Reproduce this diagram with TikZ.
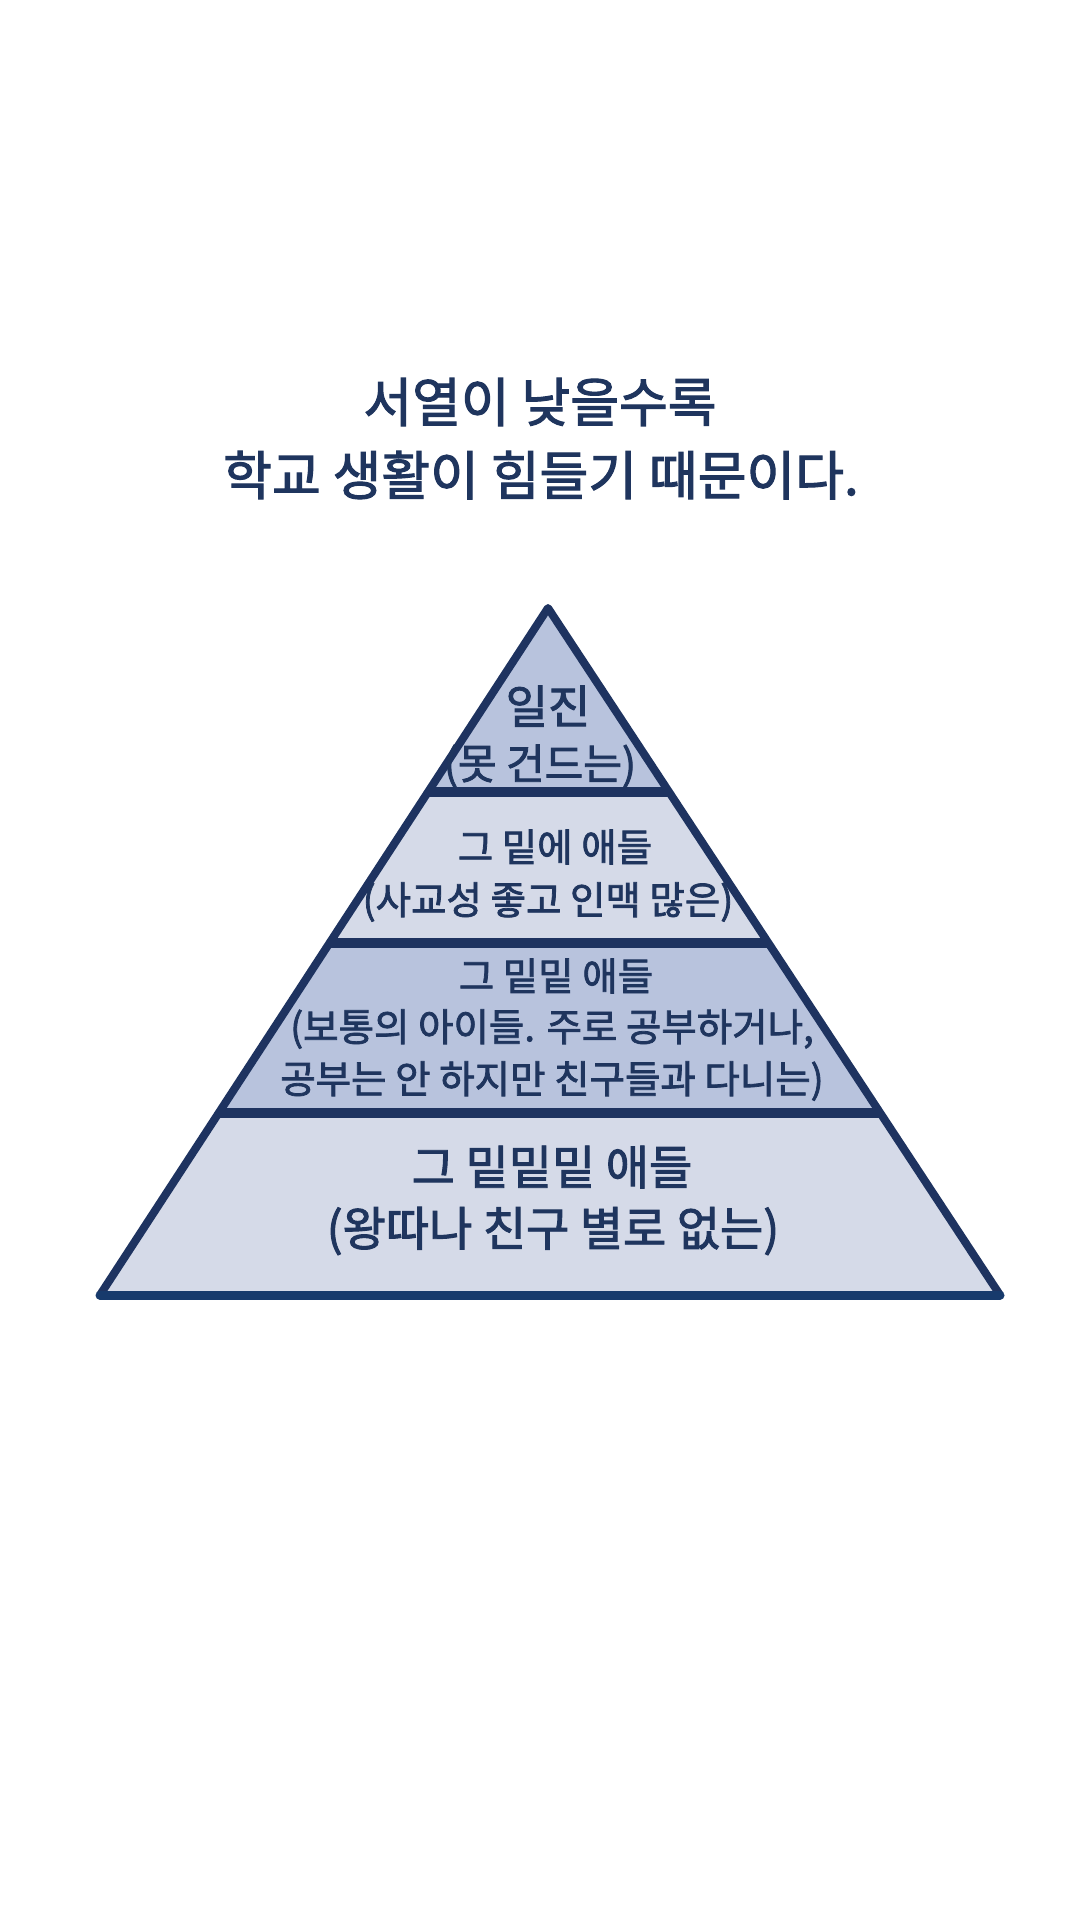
\documentclass[tikz,border=0pt]{standalone}
\usepackage{fontspec}
\newfontfamily\kr{Noto Sans CJK KR}[FakeBold=2]
\usetikzlibrary{calc}
\definecolor{ink}{HTML}{1F355E}
\definecolor{edge}{HTML}{1E3360}
\definecolor{baseedge}{HTML}{173A6C}
\definecolor{darkfill}{HTML}{B8C3DD}
\definecolor{lightfill}{HTML}{D5DAE8}
\begin{document}
\begin{tikzpicture}[x=1pt,y=-1pt,
  lbl/.style={text=ink, inner sep=0pt, anchor=center},
  ttl/.style={lbl, font={\kr\fontsize{53}{60}\selectfont}},
  big/.style={lbl, font={\kr\fontsize{46}{52}\selectfont}},
  mid/.style={lbl, font={\kr\fontsize{38.5}{45}\selectfont}},
  low/.style={lbl, font={\kr\fontsize{47}{52}\selectfont}},
  divider/.style={draw=edge, line width=10pt},
  outline/.style={draw=edge, line width=8pt, line join=round}]
\useasboundingbox[fill=white] (0,0) rectangle (1080,1920);
% corners
\coordinate (A) at (548,608);
\coordinate (BL) at (100,1295);
\coordinate (BR) at (1000,1295);
\coordinate (L1) at ($(A)!0.2678!(BL)$);
\coordinate (R1) at ($(A)!0.2678!(BR)$);
\coordinate (L2) at ($(A)!0.4876!(BL)$);
\coordinate (R2) at ($(A)!0.4876!(BR)$);
\coordinate (L3) at ($(A)!0.7351!(BL)$);
\coordinate (R3) at ($(A)!0.7351!(BR)$);
% fills
\fill[darkfill] (A) -- (L1) -- (R1) -- cycle;
\fill[lightfill] (L1) -- (L2) -- (R2) -- (R1) -- cycle;
\fill[darkfill] (L2) -- (L3) -- (R3) -- (R2) -- cycle;
\fill[lightfill] (L3) -- (BL) -- (BR) -- (R3) -- cycle;
% dividers
\draw[divider] (L1) -- (R1);
\draw[divider] (L2) -- (R2);
\draw[divider] (L3) -- (R3);
% outline
\draw[outline] (BL) -- (A) -- (BR);
\draw[draw=baseedge, line width=9pt, line cap=round] (BL) -- (BR);
% title
\node[ttl] (t1) at (540,402) {서열이 낮을수록};
\node[ttl] (t2) at (541,475) {학교 생활이 힘들기 때문이다.};
% layer 1
\node[big] (a1) at (548,706) {일진};
\node[lbl, font={\kr\fontsize{42}{48}\selectfont}] (a2) at (540,766) {(못 건드는)};
% layer 2
\node[mid] (b1) at (555,847) {그 밑에 애들};
\node[mid] (b2) at (548,902) {(사교성 좋고 인맥 많은)};
% layer 3
\node[mid] (c1) at (556,976) {그 밑밑 애들};
\node[mid] (c2) at (552,1029) {(보통의 아이들. 주로 공부하거나,};
\node[mid] (c3) at (552,1081) {공부는 안 하지만 친구들과 다니는)};
% layer 4
\node[low] (d1) at (552,1167) {그 밑밑밑 애들};
\node[low] (d2) at (553,1231) {(왕따나 친구 별로 없는)};
\end{tikzpicture}
\end{document}
